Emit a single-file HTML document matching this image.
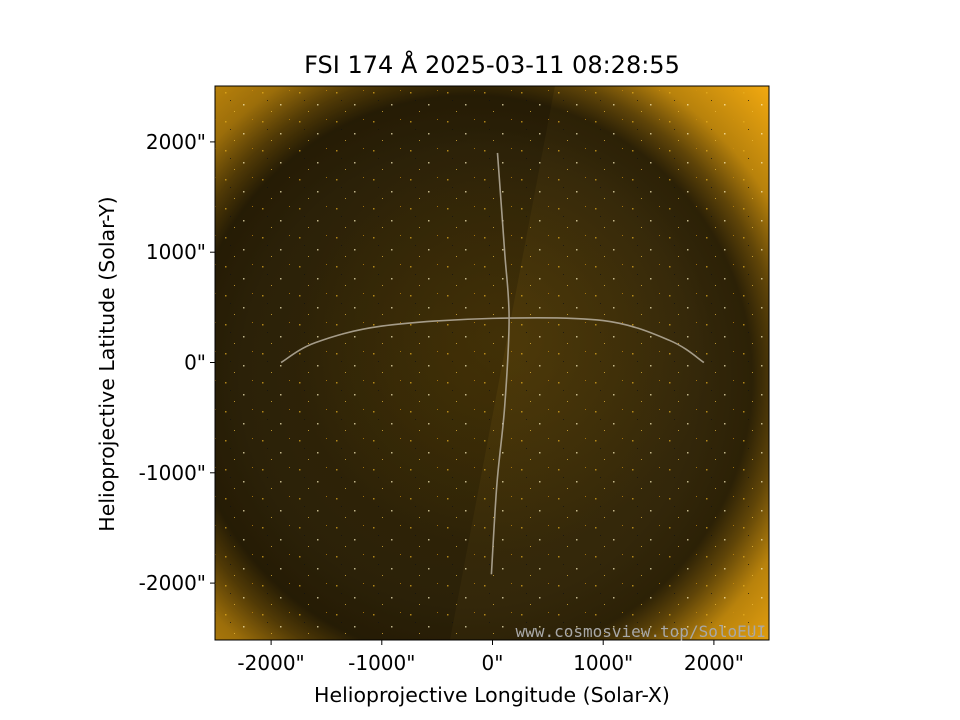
<!DOCTYPE html>
<html><head><meta charset="utf-8"><style>
body{margin:0;background:#fff;}
svg{display:block;font-family:"DejaVu Sans","Liberation Sans",sans-serif;}
</style></head><body>
<svg id="chart" width="960" height="720" viewBox="0 0 960 720">
<defs>
<radialGradient id="limb" cx="470" cy="378" r="415" gradientUnits="userSpaceOnUse">
<stop offset="0" stop-color="#3d2e07"/>
<stop offset="0.55" stop-color="#33270a"/>
<stop offset="0.68" stop-color="#2c2106"/>
<stop offset="0.75" stop-color="#604508"/>
<stop offset="0.84" stop-color="#b8820c"/>
<stop offset="1" stop-color="#f0a810"/>
</radialGradient>
<radialGradient id="core" cx="500" cy="340" r="210" gradientUnits="userSpaceOnUse">
<stop offset="0" stop-color="#5a420a" stop-opacity="0.6"/>
<stop offset="1" stop-color="#5a420a" stop-opacity="0"/>
</radialGradient>
<pattern id="specks" width="37" height="29" patternUnits="userSpaceOnUse">
<rect x="3" y="5" width="1.5" height="1.5" fill="#e8b020"/>
<rect x="21" y="17" width="1.5" height="1.5" fill="#fff3c0"/>
<rect x="30" y="3" width="1" height="1" fill="#d09010"/>
<rect x="12" y="24" width="1" height="1" fill="#f0c040"/>
<rect x="8" y="13" width="1" height="1" fill="#111"/>
</pattern>
<clipPath id="plotclip"><rect x="215" y="86" width="554" height="554"/></clipPath>
</defs>
<g clip-path="url(#plotclip)">
<rect x="215" y="86" width="554" height="554" fill="url(#limb)"/>
<rect x="215" y="86" width="554" height="554" fill="url(#core)"/>
<polygon points="215,86 555,86 450,640 215,640" fill="#000" opacity="0.15"/>
<rect x="215" y="86" width="554" height="554" fill="url(#specks)" opacity="0.7"/>
</g>
<g id="grid" fill="none" stroke="#b8b0a0" stroke-width="1.6" opacity="0.85"></g>
<rect x="215" y="86" width="554" height="554" fill="none" stroke="#000" stroke-width="1"/>
<text x="492" y="73" font-size="24" text-anchor="middle">FSI 174 Å 2025-03-11 08:28:55</text>
<text x="492" y="702" font-size="20.5" text-anchor="middle">Helioprojective Longitude (Solar-X)</text>
<text transform="translate(114,364) rotate(-90)" font-size="20.5" text-anchor="middle">Helioprojective Latitude (Solar-Y)</text>
<text x="766" y="637" font-size="16" text-anchor="end" fill="#a8a8a8" font-family="DejaVu Sans Mono, Liberation Mono, monospace">www.cosmosview.top/SoloEUI</text>
<g id="axes"></g>
</svg>
<script>
const xTicks=[-2000,-1000,0,1000,2000];
const yTicks=[2000,1000,0,-1000,-2000];
const xTickLabels=['-2000"','-1000"','0"','1000"','2000"'];
const yTickLabels=['2000"','1000"','0"','-1000"','-2000"'];
const meridian=[[45,1900],[110,1000],[150,400],[110,-400],[40,-1100],[-10,-1920]];
const equator=[[-1910,0],[-1600,180],[-1000,330],[0,400],[1000,380],[1600,200],[1910,0]];
const ns='http://www.w3.org/2000/svg';
const sx=v=>492.5+v*0.1107, sy=v=>362.5-v*0.1103;
const axes=document.getElementById('axes');
function el(t,a){const e=document.createElementNS(ns,t);for(const k in a)e.setAttribute(k,a[k]);return e;}
xTicks.forEach((v,i)=>{
const l=el('line',{x1:sx(v),x2:sx(v),y1:640,y2:645,stroke:'#000'});


axes.appendChild(l);
const t=el('text',{x:sx(v),y:670,'font-size':20,'text-anchor':'middle'});t.textContent=xTickLabels[i];


axes.appendChild(t);});
yTicks.forEach((v,i)=>{
const l=el('line',{x1:210,x2:215,y1:sy(v),y2:sy(v),stroke:'#000'});


axes.appendChild(l);
const t=el('text',{x:206,y:sy(v)+7,'font-size':20,'text-anchor':'end'});t.textContent=yTickLabels[i];


axes.appendChild(t);});
function smooth(pts){let d='M'+sx(pts[0][0])+','+sy(pts[0][1]);
for(let i=1;i<pts.length;i++){const p0=pts[Math.max(i-2,0)],p1=pts[i-1],p2=pts[i],p3=pts[Math.min(i+1,pts.length-1)];
const c1=[sx(p1[0])+(sx(p2[0])-sx(p0[0]))/6,sy(p1[1])+(sy(p2[1])-sy(p0[1]))/6];
const c2=[sx(p2[0])-(sx(p3[0])-sx(p1[0]))/6,sy(p2[1])-(sy(p3[1])-sy(p1[1]))/6];
d+=` C${c1} ${c2} ${sx(p2[0])},${sy(p2[1])}`;}return d;}
const g=document.getElementById('grid');
const m=el('path',{d:smooth(meridian)});


g.appendChild(m);
const e=el('path',{d:smooth(equator)});


g.appendChild(e);
</script>
</body></html>
